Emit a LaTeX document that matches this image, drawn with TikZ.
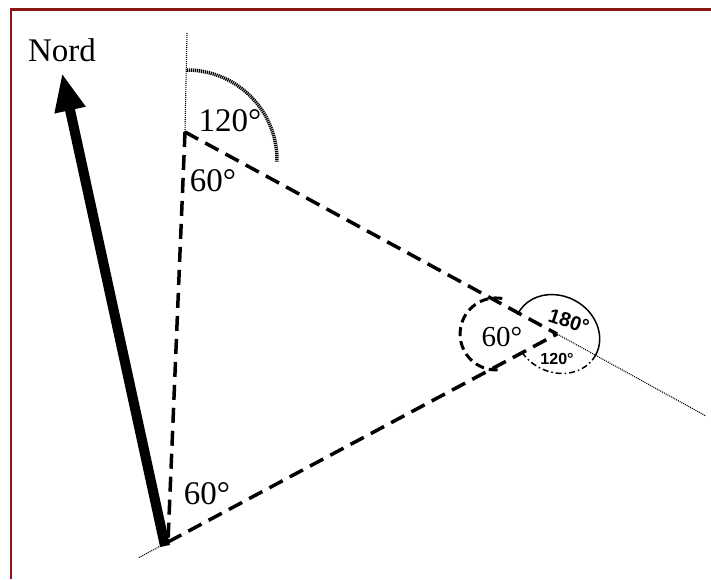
\documentclass[tikz,border=0pt]{standalone}
\usepackage{fontspec}
\setmainfont{Liberation Serif}
\newfontfamily\labsans{Liberation Sans}
\usetikzlibrary{arrows.meta}
\definecolor{framered}{RGB}{140,22,22}
\begin{document}
\begin{tikzpicture}[x=1pt,y=-1pt,
  tri/.style={line width=3.5pt, dash pattern=on 15pt off 8pt},
  thindot/.style={line width=1.1pt, dash pattern=on 1pt off 1pt},
  topdots/.style={line width=3.5pt, dash pattern=on 1.2pt off 0.8pt},
  loopdash/.style={line width=3pt, dash pattern=on 9pt off 5pt},
  dashdotarc/.style={line width=1.5pt, dash pattern=on 6pt off 3pt on 1.5pt off 3pt},
  solidarc/.style={line width=1.5pt},
  northarrow/.style={line width=10pt, -{Triangle[length=38pt,width=29pt]}},
  biglab/.style={font=\fontsize{33}{36}\selectfont, inner sep=0pt},
  midlab/.style={font=\fontsize{29}{32}\selectfont, inner sep=0pt},
  sanslab/.style={font=\labsans\fontsize{#1}{#1}\selectfont, inner sep=0pt}
]
\fill[white] (0,0) rectangle (711,579);
\useasboundingbox (0,0) rectangle (711,579);
% frame
\draw[framered, line width=2.5pt] (11,579) -- (11,9.5) -- (711,9.5);

% vertices
\coordinate (A) at (185,132);
\coordinate (B) at (168,542);
\coordinate (C) at (557,334);
\coordinate (Atop) at (187,33);
\coordinate (Cext) at (706,416);
\coordinate (Bext) at (138,558);
\coordinate (Sa) at (165,546);
\coordinate (Ntip) at (62,73);

% thin dotted extensions
\draw[thindot] (A) -- (Atop);
\draw[thindot] (C) -- (Cext);
\draw[thindot] (B) -- (Bext);

% dashed triangle
\draw[tri] (A) -- (B);
\draw[tri] (A) -- (C);
\draw[tri] (B) -- (C);

% north arrow
\draw[northarrow] (Sa) -- (Ntip);
\node[biglab] (nord) at (62,50) {Nord};

% 120 degree dotted arc at A
\draw[topdots] (187,70) arc[start angle=90, end angle=-1, radius=90pt];

% angle marks at C
\draw[solidarc, shift={(C)}, rotate=-28.7] (44pt,0pt) arc[start angle=0, end angle=183, x radius=44pt, y radius=38pt];
\draw[dashdotarc, shift={(C)}, rotate=-28.7] (44pt,0pt) arc[start angle=0, end angle=-120, x radius=44pt, y radius=38pt];
\draw[loopdash] (502.3,298.5) arc[start angle=80, end angle=280, radius=36pt];

% labels
\node[biglab] (l120) at (230,121) {120°};
\node[biglab] (l60a) at (213,181) {60°};
\node[biglab] (l60b) at (207,494) {60°};
\node[midlab] (l60c) at (502,337) {60°};
\node[sanslab=20, rotate=-18] (l180) at (569,321) {\bfseries 180°};
\node[sanslab=16] (l120s) at (557,359) {\bfseries 120°};
\end{tikzpicture}
\end{document}
